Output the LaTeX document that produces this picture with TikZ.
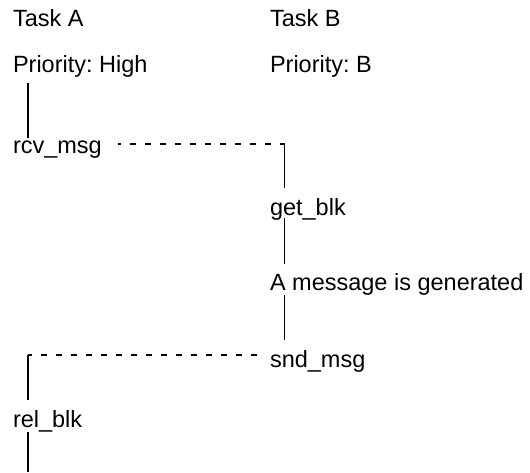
\documentclass[tikz,border=0pt]{standalone}
\usepackage{fontspec}
\setmainfont{Liberation Sans}
\usetikzlibrary{calc}
\frenchspacing
\begin{document}
\begin{tikzpicture}[x=1pt,y=-1pt,
  lbl/.style={anchor=base west,inner sep=0pt,outer sep=0pt,font=\fontsize{23.5}{28}\selectfont},
  life/.style={line width=1.8pt,black},
  msgline/.style={line width=1.8pt,black,dash pattern=on 6pt off 9pt}]
\useasboundingbox (0,0) rectangle (530,472);
\node[lbl] (tA) at (13,26) {Task A};
\node[lbl] (pA) at (13,72) {Priority: High};
\node[lbl] (tB) at (270,26) {Task B};
\node[lbl] (pB) at (270,72) {Priority: B};
\node[lbl] (rcv) at (13,153) {rcv\_msg};
\node[lbl] (get) at (270,215) {get\_blk};
\node[lbl] (msg) at (270,290) {A message is generated};
\node[lbl] (snd) at (270,367) {snd\_msg};
\node[lbl] (rel) at (13,427) {rel\_blk};
\coordinate (c1) at (284.5,144);
\coordinate (c2) at (28,355);
\coordinate (bot) at (28,472);
\draw[life] ($(pA.base west)+(15,11)$) -- ($(rcv.base west)+(15,-15)$);
\draw[msgline,dash phase=3pt] ($(rcv.base east)+(16,-9)$) -- (c1);
\draw[life] (c1) -- ($(get.base west)+(14.5,-27)$);
\draw[life] ($(get.base west)+(14.5,3)$) -- ($(msg.base west)+(14.5,-26)$);
\draw[life] ($(msg.base west)+(14.5,5)$) -- ($(snd.base west)+(14.5,-27)$);
\draw[msgline] ($(snd.base west)+(-13.5,-12)$) -- (c2);
\draw[life] (c2) -- ($(rel.base west)+(15,-27)$);
\draw[life] ($(rel.base west)+(15,5)$) -- (bot);
\end{tikzpicture}
\end{document}
